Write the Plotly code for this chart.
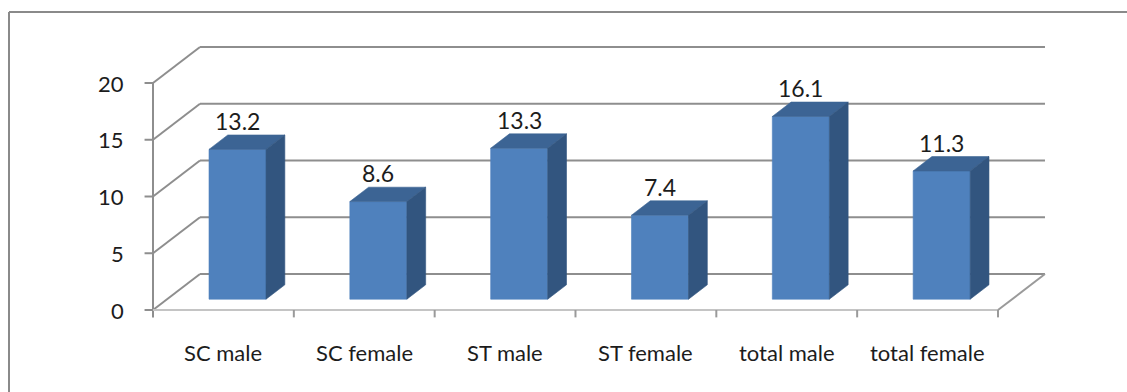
import plotly.graph_objects as go

# ---- data ----
categories = ["SC male", "SC female", "ST male", "ST female", "total male", "total female"]
values = [13.2, 8.6, 13.3, 7.4, 16.1, 11.3]
y_ticks = [0, 5, 10, 15, 20]
y_max = 20

# ---- oblique 3-D projection helpers ----
# x is measured in category slots, y in data units; depth d runs 0 (front) .. 1 (back wall)
DX = 47 / 140.83
DY = 36 / 11.35
BAR_W = 0.405
D_FRONT, D_BACK = 0.3, 0.7
n = len(categories)


def proj(c, v, d):
    return c + d * DX, v + d * DY


FRONT = "#4F81BD"
TOP = "#3C6494"
SIDE = "#32557F"
GRID = "#8e8e8e"
TXT = "#1c1c1c"
FONT = "Lato"

fig = go.Figure()
shapes = []


def seg(p, q, color=GRID, width=2):
    shapes.append(dict(type="line", xref="x", yref="y", x0=p[0], y0=p[1], x1=q[0], y1=q[1],
                       line=dict(color=color, width=width), layer="below"))


# back wall gridlines and left wall diagonals
for t in y_ticks:
    seg(proj(0, t, 1), proj(n, t, 1))
    seg(proj(0, t, 0), proj(0, t, 1))
    # tick mark on the front value axis
    seg((-0.06, t), (0, t))

# front value axis
seg(proj(0, 0, 0), proj(0, y_max, 0))
seg((0, 0), (0, -0.65))
# floor: front edge and right edge
seg(proj(0, 0, 0), proj(n, 0, 0), color="#c4c4c4")
seg(proj(n, 0, 0), proj(n, 0, 1), color="#9a9a9a")
# category ticks on the front edge
for i in range(1, n + 1):
    seg((i, 0), (i, -0.65), color="#9a9a9a")


def face(pts, color):
    xs = [p[0] for p in pts] + [pts[0][0]]
    ys = [p[1] for p in pts] + [pts[0][1]]
    fig.add_trace(go.Scatter(x=xs, y=ys, mode="lines", fill="toself", fillcolor=color,
                             line=dict(color=color, width=0.6), hoverinfo="skip", showlegend=False))


annotations = []
for i, (cat, v) in enumerate(zip(categories, values)):
    c0 = i + 0.5 - BAR_W / 2
    c1 = i + 0.5 + BAR_W / 2
    # front face
    face([proj(c0, 0, D_FRONT), proj(c1, 0, D_FRONT), proj(c1, v, D_FRONT), proj(c0, v, D_FRONT)], FRONT)
    # top face
    face([proj(c0, v, D_FRONT), proj(c1, v, D_FRONT), proj(c1, v, D_BACK), proj(c0, v, D_BACK)], TOP)
    # right side face
    face([proj(c1, 0, D_FRONT), proj(c1, 0, D_BACK), proj(c1, v, D_BACK), proj(c1, v, D_FRONT)], SIDE)

    lx, _ = proj(i + 0.5, v, D_FRONT)
    _, ly = proj(i + 0.5, v, D_BACK)
    annotations.append(dict(x=lx, y=ly, xref="x", yref="y", text=f"{v:g}", showarrow=False,
                            xanchor="center", yanchor="bottom", yshift=-2,
                            font=dict(family=FONT, size=23, color=TXT)))
    annotations.append(dict(x=i + 0.5, y=-3.77, xref="x", yref="y", text=cat, showarrow=False,
                            xanchor="center", yanchor="middle",
                            font=dict(family=FONT, size=22, color=TXT)))

for t in y_ticks:
    annotations.append(dict(x=-0.19, y=t, xref="x", yref="y", text=str(t), showarrow=False,
                            xanchor="right", yanchor="middle",
                            font=dict(family=FONT, size=22, color=TXT)))

# chart-area frame (top and left edges visible)
W, H = 1127, 392
shapes.append(dict(type="line", xref="paper", yref="paper", x0=9 / W, x1=1.02, y0=1 - 12 / H, y1=1 - 12 / H,
                   line=dict(color="#8a8a8a", width=2)))
shapes.append(dict(type="line", xref="paper", yref="paper", x0=9 / W, x1=9 / W, y0=1 - 12 / H, y1=-0.02,
                   line=dict(color="#8a8a8a", width=2)))

fig.update_layout(
    width=W, height=H, autosize=False,
    margin=dict(l=0, r=0, t=0, b=0),
    paper_bgcolor="white", plot_bgcolor="white",
    xaxis=dict(range=[-153 / 140.83, (W - 153) / 140.83], visible=False, fixedrange=True),
    yaxis=dict(range=[(310 - H) / 11.35, 310 / 11.35], visible=False, fixedrange=True),
    shapes=shapes, annotations=annotations, showlegend=False,
)

fig.write_html("out.html")
